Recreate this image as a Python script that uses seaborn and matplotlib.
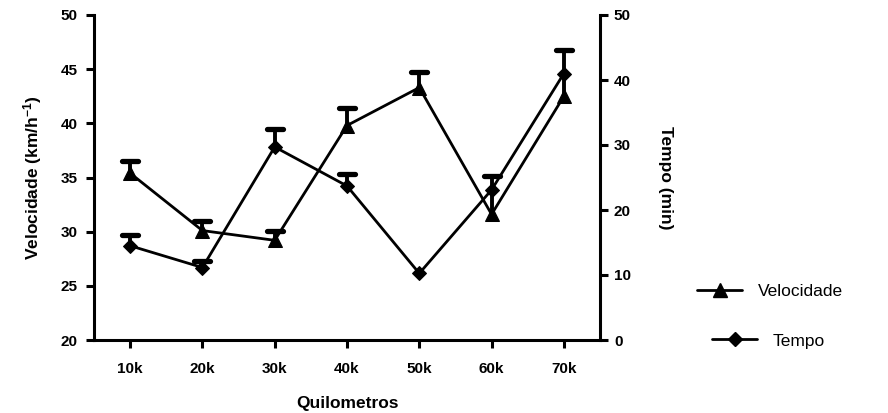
import numpy as np
import pandas as pd
import matplotlib
matplotlib.use("Agg")
import matplotlib.pyplot as plt
from matplotlib.lines import Line2D
from matplotlib.markers import MarkerStyle
import seaborn as sns

# Race split data: mean speed (left axis) and time (right axis), with upper SEM bars
categories = ["10k", "20k", "30k", "40k", "50k", "60k", "70k"]
velocidade = [35.4, 30.1, 29.2, 39.8, 43.3, 31.6, 42.5]
velocidade_err = [1.1, 0.9, 0.85, 1.6, 1.4, 3.5, 4.3]
tempo = [14.5, 11.15, 29.7, 23.7, 10.25, 23.1, 41.0]
tempo_err = [1.6, 1.0, 2.7, 1.8, 0.0, 0.0, 0.0]

sns.set_style("ticks")
plt.rcParams["font.family"] = ["Liberation Sans", "DejaVu Sans"]
plt.rcParams["mathtext.fontset"] = "custom"
plt.rcParams["mathtext.rm"] = "Liberation Sans:bold"
plt.rcParams["mathtext.default"] = "rm"
plt.rcParams["text.color"] = "black"
plt.rcParams["axes.labelcolor"] = "black"
plt.rcParams["xtick.color"] = "black"
plt.rcParams["ytick.color"] = "black"

pos = np.arange(len(categories))
df = pd.DataFrame({"pos": pos, "Velocidade": velocidade, "Tempo": tempo})

fig = plt.figure(figsize=(8.88, 4.13), dpi=100)
W, H = 888, 413
ax = fig.add_axes([94 / W, 1 - 340 / H, (600 - 94) / W, (340 - 15) / H])
ax2 = ax.twinx()

lw_axis = 2.2
black = "#000000"
cap_marker = MarkerStyle("_", capstyle="round")


def upper_bars(a, x, y, err):
    """Draw one-sided (upper) error bars with a flat cap at the top."""
    x = np.asarray(x)
    y = np.asarray(y, dtype=float)
    err = np.asarray(err, dtype=float)
    keep = err > 0
    top = y + err
    a.vlines(x[keep], y[keep], top[keep], colors=black, linewidth=2.8, zorder=2)
    a.plot(x[keep], top[keep], linestyle="none", marker=cap_marker, markersize=12,
           markeredgewidth=3.8, color=black, zorder=2)


# Velocidade on the left axis
upper_bars(ax, pos, velocidade, velocidade_err)
sns.lineplot(data=df, x="pos", y="Velocidade", ax=ax, color=black, linewidth=2.0,
             marker="^", markersize=10, markeredgecolor=black, zorder=3, legend=False)

# Tempo on the right axis
upper_bars(ax2, pos, tempo, tempo_err)
sns.lineplot(data=df, x="pos", y="Tempo", ax=ax2, color=black, linewidth=2.0,
             marker="D", markersize=7, markeredgecolor=black, zorder=3, legend=False)

ax.set_xlim(-0.5, len(categories) - 0.5)
ax.set_ylim(20, 50)
ax2.set_ylim(0, 50)
ax.set_yticks(np.arange(20, 51, 5))
ax2.set_yticks(np.arange(0, 51, 10))
ax.set_xticks(pos)
ax.set_xticklabels(categories)

for a in (ax, ax2):
    a.spines["top"].set_visible(False)
    for s in ("left", "right", "bottom"):
        a.spines[s].set_linewidth(lw_axis)
        a.spines[s].set_color(black)
    a.tick_params(width=lw_axis, length=6, color=black, labelsize=11, pad=4)
    for lab in a.get_xticklabels() + a.get_yticklabels():
        lab.set_fontweight("bold")
ax.spines["right"].set_visible(False)
ax2.spines["left"].set_visible(False)
ax2.spines["bottom"].set_visible(False)
ax.tick_params(axis="x", pad=10)
ax.tick_params(axis="y", pad=6)

ax.set_xlabel("Quilometros", fontsize=12.5, fontweight="bold", labelpad=14)
ax.set_ylabel("Velocidade (km/h$^{-1}$)", fontsize=12.5, fontweight="bold", labelpad=12)
ax2.set_ylabel("Tempo (min)", fontsize=12.5, fontweight="bold", rotation=270, labelpad=30)

# Legend entries placed to the right of the plot
h_vel = Line2D([], [], color=black, linewidth=2.0, marker="^", markersize=10)
h_tem = Line2D([], [], color=black, linewidth=2.0, marker="D", markersize=7)
leg_kw = dict(frameon=False, fontsize=12.5, handlelength=2.6, handletextpad=0.9,
              borderpad=0, borderaxespad=0)
fig.legend([h_vel], ["Velocidade"], loc="center left",
           bbox_to_anchor=(697 / W, 1 - 291 / H), **leg_kw)
fig.legend([h_tem], ["Tempo"], loc="center left",
           bbox_to_anchor=(712 / W, 1 - 341 / H), **leg_kw)

fig.savefig("out.png", dpi=100)
